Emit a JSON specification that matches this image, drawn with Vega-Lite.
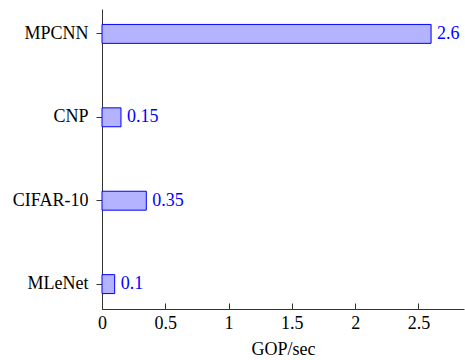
{
  "$schema": "https://vega.github.io/schema/vega-lite/v6.json",
  "width": 362,
  "height": 300,
  "autosize": "none",
  "padding": {"left": 102, "top": 9, "right": 1, "bottom": 51},
  "config": {"view": {"stroke": null}, "font": "Liberation Serif"},
  "data": {"values": [
    {"model": "MPCNN", "gops": 2.6, "label": "2.6"},
    {"model": "CNP", "gops": 0.15, "label": "0.15"},
    {"model": "CIFAR-10", "gops": 0.35, "label": "0.35"},
    {"model": "MLeNet", "gops": 0.1, "label": "0.1"}
  ]},
  "encoding": {
    "y": {"field": "model", "type": "nominal", "sort": null,
      "scale": {"paddingInner": 0.773, "paddingOuter": 0.185},
      "axis": {"title": null, "labelFont": "Liberation Serif", "labelFontSize": 18, "labelColor": "#000", "domainColor": "#333", "tickColor": "#333", "tickSize": 6, "labelPadding": 8}
    },
    "x": {"field": "gops", "type": "quantitative",
      "scale": {"domain": [0, 2.86], "nice": false},
      "axis": {"title": "GOP/sec", "titleFont": "Liberation Serif", "titleFontSize": 18, "titleFontWeight": "normal", "titleColor": "#000", "titlePadding": 8, "labelFont": "Liberation Serif", "labelFontSize": 18, "labelColor": "#000", "values": [0, 0.5, 1, 1.5, 2, 2.5], "format": "~g", "grid": false, "tickSize": -6, "labelPadding": 11, "domainColor": "#333", "tickColor": "#333", "labelFlush": false}
    }
  },
  "layer": [
    {
      "mark": {"type": "bar", "fill": "#b3b3ff", "stroke": "#0000ff", "strokeWidth": 1}
    },
    {
      "mark": {"type": "text", "align": "left", "baseline": "middle", "dx": 6, "color": "#0000ff", "fontSize": 18, "font": "Liberation Serif"},
      "encoding": {
        "text": {"field": "label"}
      }
    }
  ]
}
